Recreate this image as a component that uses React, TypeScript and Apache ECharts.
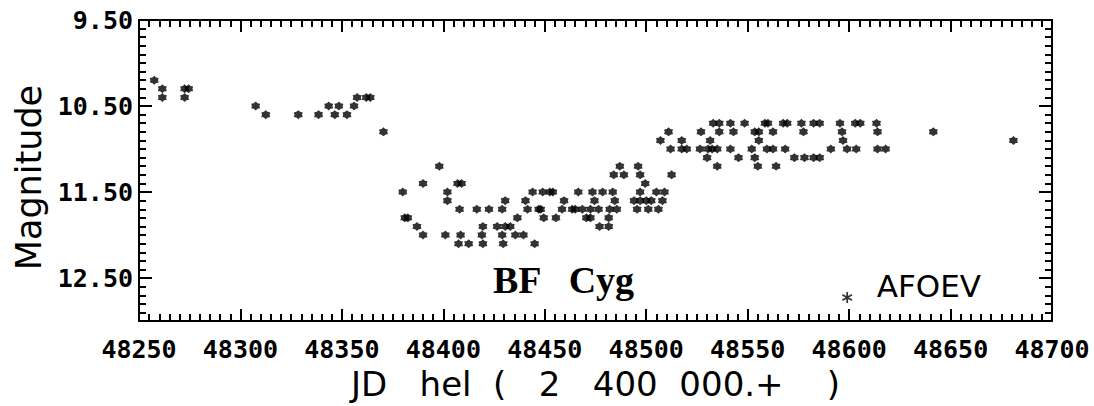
import React, { useEffect, useRef } from 'react';
import * as echarts from 'echarts';

// Axis extents and labelled ticks
const JD_MIN = 48250;
const JD_MAX = 48700;
const JD_STEP = 50;
const MAG_MIN = 9.5;
const MAG_MAX = 13.0;
const MAG_LABELS = [9.5, 10.5, 11.5, 12.5];

const X_TITLE = 'JD   hel  (   2   400  000.+    )';
const Y_TITLE = 'Magnitude';
const STAR_NAME = 'BF   Cyg';
const SOURCE = 'AFOEV';

// Visual estimates [JD hel - 2400000, magnitude]
const EARLY: [number, number][] = [
  [48257.5, 10.2], [48261.5, 10.3], [48261.5, 10.4], [48272.5, 10.3], [48274.5, 10.3],
  [48272.5, 10.4], [48307.5, 10.5], [48312.5, 10.6], [48328.5, 10.6], [48338.5, 10.6],
  [48343.5, 10.5], [48346.5, 10.6], [48348.5, 10.5], [48352.5, 10.6], [48356, 10.5],
  [48357.5, 10.4], [48362, 10.4], [48364, 10.4], [48370.5, 10.8],
];

const DIP: [number, number][] = [
  [48398, 11.2], [48380, 11.5], [48390, 11.4], [48402, 11.5], [48407, 11.4], [48409, 11.4],
  [48402, 11.6], [48408, 11.7], [48416.5, 11.7], [48422.5, 11.7], [48429, 11.7], [48430.5, 11.6],
  [48381, 11.8], [48382.5, 11.8], [48387, 11.9], [48390, 12.0], [48401, 12.0], [48408.5, 12.0],
  [48407.5, 12.1], [48412.5, 12.1], [48419.5, 11.9], [48419, 12.0], [48419.5, 12.1],
  [48426.5, 11.9], [48430.5, 11.9], [48433, 11.9], [48429, 12.0], [48429.5, 12.1],
  [48435.5, 12.0], [48439.5, 12.0], [48436.5, 11.8], [48440.5, 11.6], [48441.5, 11.7],
  [48444, 11.5], [48449, 11.5], [48452.5, 11.5], [48454, 11.5], [48447, 11.7], [48448, 11.7],
  [48449.5, 11.8], [48455.5, 11.8], [48459.5, 11.6], [48458.5, 11.7], [48445, 12.1],
];

const RISE: [number, number][] = [
  [48463.5, 11.7], [48465, 11.7], [48466.5, 11.5], [48468.5, 11.7], [48470.5, 11.8],
  [48472.5, 11.8], [48472.5, 11.7], [48473.5, 11.5], [48474.5, 11.6], [48476.5, 11.7],
  [48478.5, 11.5], [48477, 11.9], [48481.5, 11.9], [48481.5, 11.8], [48482, 11.7],
  [48485.5, 11.7], [48483.5, 11.5], [48484.5, 11.6], [48484, 11.3], [48487, 11.2],
  [48489, 11.3], [48496, 11.2], [48497, 11.3], [48499.5, 11.4], [48497, 11.5], [48494, 11.6],
  [48497, 11.6], [48500, 11.6], [48502.5, 11.6], [48495.5, 11.7], [48501, 11.7], [48506, 11.7],
  [48505, 11.5], [48509, 11.5], [48508, 11.6], [48512.5, 11.3],
];

const BRIGHT: [number, number][] = [
  [48533, 10.7], [48536, 10.7], [48541.5, 10.7], [48548.5, 10.7], [48558.5, 10.7], [48560, 10.7],
  [48567.5, 10.7], [48569.5, 10.7], [48576.5, 10.7], [48582.5, 10.7], [48585.5, 10.7],
  [48595.5, 10.7], [48603, 10.7], [48605.5, 10.7], [48613.5, 10.7],
  [48511, 10.8], [48527, 10.8], [48536, 10.8], [48543, 10.8], [48553.5, 10.8], [48555.5, 10.8],
  [48562.5, 10.8], [48577.5, 10.8], [48596.5, 10.8], [48614, 10.8],
  [48507, 10.9], [48517.5, 10.9], [48531.5, 10.9], [48555.5, 10.9], [48597, 10.9],
  [48512, 11.0], [48517.5, 11.0], [48520, 11.0], [48526.5, 11.0], [48530.5, 11.0], [48532.5, 11.0],
  [48535, 11.0], [48541.5, 11.0], [48552, 11.0], [48559.5, 11.0], [48562.5, 11.0], [48568.5, 11.0],
  [48591, 11.0], [48599, 11.0], [48603.5, 11.0], [48614, 11.0], [48618, 11.0],
  [48530, 11.1], [48545.5, 11.1], [48553.5, 11.1], [48573, 11.1], [48578, 11.1], [48582.5, 11.1],
  [48585.5, 11.1],
  [48535, 11.2], [48555, 11.2], [48564, 11.2],
];

const LATE: [number, number][] = [
  [48641.5, 10.8], [48681, 10.9],
];

// Filled six-point star for the observations
const STAR_SYMBOL =
  'path://M0,-100L36,-62L87,-50L72,0L87,50L36,62L0,100L-36,62L-87,50L-72,0L-87,-50L-36,-62Z';
// Six-armed asterisk for the legend key; the hair-sized tip far above it lowers
// the asterisk inside its icon box so it sits below the middle of the legend text
const ASTERISK_SYMBOL =
  'path://M-16,-100L16,-100L16,100L-16,100Z' +
  'M-94.6,-36.1L-78.6,-63.9L94.6,36.1L78.6,63.9Z' +
  'M78.6,-63.9L94.6,-36.1L-78.6,63.9L-94.6,36.1Z' +
  'M0,-536L1,-536L0,-535Z';

const INK = '#000';
const LABEL_FONT = '"DejaVu Sans Mono", monospace';
const TITLE_FONT = '"DejaVu Sans", sans-serif';

function App() {
  const ref = useRef<HTMLDivElement>(null);

  useEffect(() => {
    if (!ref.current) return;
    const chart = echarts.init(ref.current, undefined, { renderer: 'svg' });

    const frameLine = { show: true, onZero: false, lineStyle: { color: INK, width: 2 } };
    const tickLabel = {
      color: INK,
      fontFamily: LABEL_FONT,
      fontWeight: 'bold' as const,
      fontSize: 25,
    };

    const xBase = {
      type: 'value' as const,
      min: JD_MIN,
      max: JD_MAX,
      interval: JD_STEP,
      axisLine: frameLine,
      axisTick: { show: true, inside: true, length: 12, lineStyle: { color: INK, width: 2 } },
      minorTick: { show: true, splitNumber: 10, length: 7, lineStyle: { color: INK, width: 2 } },
      splitLine: { show: false },
      minorSplitLine: { show: false },
    };

    const yBase = {
      type: 'value' as const,
      inverse: true,
      min: MAG_MIN,
      max: MAG_MAX,
      interval: 0.1,
      splitLine: { show: false },
    };
    const yMinor = {
      ...yBase,
      axisLine: frameLine,
      axisTick: { show: true, inside: true, length: 7, lineStyle: { color: INK, width: 2 } },
    };
    const yMajor = {
      ...yBase,
      axisLine: { show: false },
      axisLabel: { show: false },
      axisTick: {
        show: true,
        inside: true,
        length: 13,
        customValues: MAG_LABELS,
        lineStyle: { color: INK, width: 2 },
      },
    };

    chart.setOption({
      animation: false,
      backgroundColor: '#fff',
      grid: { left: 139, right: 42, top: 20, bottom: 81 },
      legend: {
        left: 837,
        top: 263,
        itemWidth: 11,
        itemHeight: 35,
        data: [{ name: SOURCE, icon: ASTERISK_SYMBOL }],
        textStyle: {
          color: INK,
          fontFamily: TITLE_FONT,
          fontSize: 31,
          padding: [0, 0, 0, 19],
        },
      },
      xAxis: [
        {
          ...xBase,
          position: 'bottom',
          axisLabel: { ...tickLabel, margin: 16, formatter: (v: number) => String(v) },
          name: X_TITLE,
          nameLocation: 'middle',
          nameGap: 41,
          nameTextStyle: { color: INK, fontFamily: TITLE_FONT, fontSize: 34 },
        },
        { ...xBase, position: 'top', axisLabel: { show: false } },
      ],
      yAxis: [
        {
          ...yMinor,
          position: 'left',
          axisLabel: {
            ...tickLabel,
            margin: 6,
            customValues: MAG_LABELS,
            formatter: (v: number) => v.toFixed(2),
          },
          name: Y_TITLE,
          nameLocation: 'middle',
          nameGap: 88,
          nameTextStyle: { color: INK, fontFamily: TITLE_FONT, fontSize: 35, padding: [0, 14, 0, 0] },
        },
        { ...yMajor, position: 'left' },
        { ...yMinor, position: 'right', axisLabel: { show: false } },
        { ...yMajor, position: 'right' },
      ],
      graphic: [
        {
          type: 'text',
          left: 493,
          top: 261,
          style: {
            text: STAR_NAME,
            fill: INK,
            font: 'bold 38px "Liberation Serif", serif',
          },
        },
      ],
      series: [
        {
          name: SOURCE,
          type: 'scatter',
          xAxisIndex: 0,
          yAxisIndex: 0,
          symbol: STAR_SYMBOL,
          symbolSize: 9,
          itemStyle: { color: INK },
          data: [...EARLY, ...DIP, ...RISE, ...BRIGHT, ...LATE],
        },
      ],
    });

    return () => chart.dispose();
  }, []);

  return (
    <div
      ref={ref}
      style={{ position: 'fixed', left: 0, top: 0, width: 1094, height: 406, background: '#fff' }}
    />
  );
}

export default App;
